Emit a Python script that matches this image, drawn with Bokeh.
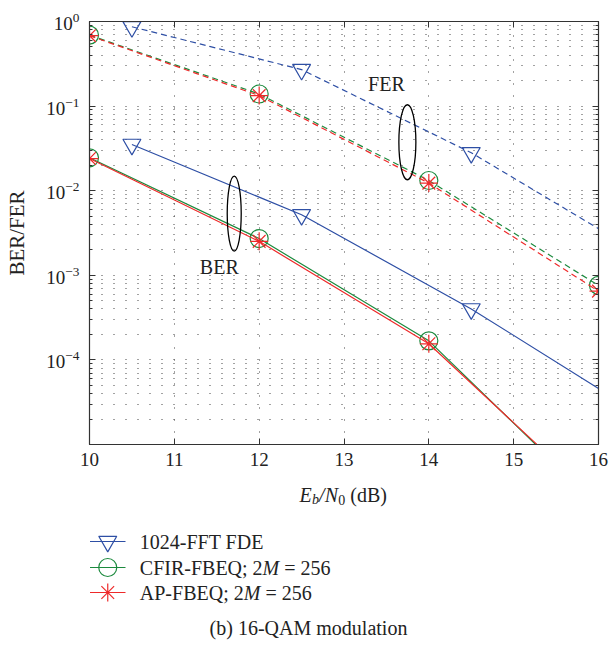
import numpy as np
from bokeh.plotting import figure
from bokeh.layouts import column
from bokeh.models import (FixedTicker, LinearAxis, LogAxis, Range1d, CustomJSTickFormatter)
from bokeh.embed import file_html
from bokeh.resources import INLINE
from bokeh.core.properties import value

# ---------------- data ----------------
x_ticks = [10, 11, 12, 13, 14, 15, 16]
y_exponents = [0, -1, -2, -3, -4]

fft_x = [10.5, 12.5, 14.5, 16.0]
fft_ber = [0.0352, 0.0052, 4.0e-4, 4.6e-5]
fft_fer = [0.866, 0.27, 0.0281, 0.00356]
fft_marker_count = 3

fbeq_x = [10, 12, 14, 16]
cfir_ber = [0.0245, 0.00272, 1.68e-4, 1.9e-6]
cfir_fer = [0.69, 0.139, 0.0132, 7.6e-4]
ap_ber = [0.0240, 0.00252, 1.55e-4, 2.1e-6]
ap_fer = [0.68, 0.133, 0.0123, 6.5e-4]

series_names = ["1024-FFT FDE", "CFIR-FBEQ; 2", "AP-FBEQ; 2"]
series_italic = ["", "M", "M"]
series_suffix = ["", "= 256", "= 256"]

group_text = ["FER", "BER"]
group_text_x = [13.5, 11.53]
group_text_y = [0.184, 0.00126]
ell_x = [13.747, 11.706]
ell_y = [0.0374, 0.00537]
ell_w = [17, 14]
ell_h = [75, 75]

y_label = "BER/FER"
caption = "(b) 16-QAM modulation"

# ---------------- style ----------------
FONT = "Liberation Serif"
BLUE = "#2E4FA5"
GREEN = "#1C8A3E"
RED = "#EE2A2A"
AX = "#333333"
TXT = "#222222"
LW = 1.2
W = 611
H_MAIN = 475
H_SUB = 645 - H_MAIN
FL, FR = 89, 598   # frame left / right in page pixels
SP = 5.0           # width of a space at 20px

p = figure(width=W, height=H_MAIN, x_range=(10, 16), y_range=(1e-5, 1),
           y_axis_type="log", output_backend="svg", toolbar_location=None,
           min_border_left=FL, min_border_right=W - FR, min_border_top=21,
           min_border_bottom=H_MAIN - 444)
p.background_fill_color = "white"
p.border_fill_color = "white"
p.outline_line_color = AX
p.outline_line_width = 1.2

xt = FixedTicker(ticks=x_ticks, minor_ticks=[])
yt = FixedTicker(ticks=[10.0 ** e for e in y_exponents],
                 minor_ticks=[k * 10.0 ** e for e in range(-5, 0) for k in range(2, 10)])
blank = CustomJSTickFormatter(code="return ''")

for ax in p.xaxis:
    ax.ticker = xt
    ax.major_tick_in = 6
    ax.major_tick_out = 0
    ax.minor_tick_in = 0
    ax.minor_tick_out = 0
    ax.axis_line_color = AX
    ax.major_tick_line_color = AX
    ax.major_label_text_font = FONT
    ax.major_label_text_font_size = "19px"
    ax.major_label_text_color = TXT
    ax.major_label_standoff = 8
for ax in p.yaxis:
    ax.ticker = yt
    ax.major_tick_in = 6
    ax.major_tick_out = 0
    ax.minor_tick_in = 3
    ax.minor_tick_out = 0
    ax.axis_line_color = AX
    ax.major_tick_line_color = AX
    ax.minor_tick_line_color = AX
    ax.major_label_text_font = FONT
    ax.major_label_text_font_size = "19px"
    ax.major_label_text_color = TXT
    ax.major_label_standoff = 10
    ax.axis_label = y_label
    ax.axis_label_text_font = FONT
    ax.axis_label_text_font_size = "21px"
    ax.axis_label_text_font_style = "normal"
    ax.axis_label_text_color = TXT
    ax.axis_label_standoff = 14

top = LinearAxis(ticker=xt, formatter=blank, major_tick_in=6, major_tick_out=0,
                 minor_tick_in=0, minor_tick_out=0,
                 axis_line_color=AX, major_tick_line_color=AX, major_label_standoff=0)
p.add_layout(top, "above")
right = LogAxis(ticker=yt, formatter=blank, major_tick_in=6, major_tick_out=0,
                minor_tick_in=3, minor_tick_out=0,
                axis_line_color=AX, major_tick_line_color=AX, minor_tick_line_color=AX,
                major_label_standoff=0)
p.add_layout(right, "right")

p.xgrid.grid_line_color = "#444444"
p.xgrid.grid_line_dash = "1 11"
p.ygrid.grid_line_color = "#444444"
p.ygrid.grid_line_dash = "1 11"
p.ygrid.minor_grid_line_color = "#444444"
p.ygrid.minor_grid_line_dash = "1 11"

# ---- curves ----
p.line(fft_x, fft_ber, line_color=BLUE, line_width=LW)
p.line(fft_x, fft_fer, line_color=BLUE, line_width=LW, line_dash="6 4")
p.scatter(fft_x[:fft_marker_count], fft_ber[:fft_marker_count], marker="inverted_triangle",
          size=18, fill_color=None, line_color=BLUE, line_width=LW)
p.scatter(fft_x[:fft_marker_count], fft_fer[:fft_marker_count], marker="inverted_triangle",
          size=18, fill_color=None, line_color=BLUE, line_width=LW)

p.line(fbeq_x, cfir_ber, line_color=GREEN, line_width=LW)
p.line(fbeq_x, cfir_fer, line_color=GREEN, line_width=LW, line_dash="6 4")
p.scatter(fbeq_x, cfir_ber, marker="circle", size=18, fill_color=None, line_color=GREEN, line_width=LW)
p.scatter(fbeq_x, cfir_fer, marker="circle", size=18, fill_color=None, line_color=GREEN, line_width=LW)

p.line(fbeq_x, ap_ber, line_color=RED, line_width=LW)
p.line(fbeq_x, ap_fer, line_color=RED, line_width=LW, line_dash="6 4")
p.scatter(fbeq_x, ap_ber, marker="asterisk", size=18, line_color=RED, line_width=LW)
p.scatter(fbeq_x, ap_fer, marker="asterisk", size=18, line_color=RED, line_width=LW)

# ---- ellipses + group text ----
p.ellipse(x=ell_x, y=ell_y, width=ell_w, height=ell_h, width_units="screen", height_units="screen",
          fill_color=None, line_color="black", line_width=1.3)
p.text(x=group_text_x, y=group_text_y, text=group_text, text_font=value(FONT),
       text_font_size=value("20px"), text_align="center", text_baseline="middle", text_color=TXT)

# ---------------- lower panel: x label, legend, caption ----------------
# this panel's frame is aligned with the main frame; its coordinates are page pixels
q = figure(width=W, height=H_SUB, x_range=Range1d(FL, FR), y_range=Range1d(645, H_MAIN),
           output_backend="svg", toolbar_location=None,
           min_border_left=FL, min_border_right=W - FR, min_border_top=0, min_border_bottom=0)
q.axis.visible = False
q.grid.visible = False
q.outline_line_color = None
q.background_fill_color = "white"
q.border_fill_color = "white"

# x-axis label  E_b/N_0 (dB)
xl_text = ["E", "b", "/N", "0", "(dB)"]
xl_size = ["20px", "14px", "20px", "14px", "20px"]
xl_style = ["italic", "italic", "italic", "normal", "normal"]
xl_dy = [0, 5, 0, 5, 0]
xl_adv = [12.4, 7.2, 19.2, 7.0 + SP, 36.7]
xl_x0, xl_y0 = 299.0, 494.0
xpos = list(np.cumsum([xl_x0] + xl_adv[:-1]))
for t, s, st, dy, x0 in zip(xl_text, xl_size, xl_style, xl_dy, xpos):
    q.text(x=[x0], y=[xl_y0 + dy], text=[t], text_font=value(FONT), text_font_size=value(s),
           text_font_style=st, text_align="left", text_baseline="middle", text_color=TXT)

# legend
row_y = [541, 567, 592]
lg_x0, lg_x1, lg_tx = 89.5, 125.0, 139.3
colors = [BLUE, GREEN, RED]
markers = ["inverted_triangle", "circle", "asterisk"]
prefix_w = [124.0, 122.8, 103.9]
for i in range(3):
    q.line([lg_x0, lg_x1], [row_y[i], row_y[i]], line_color=colors[i], line_width=LW)
    q.scatter([(lg_x0 + lg_x1) / 2], [row_y[i]], marker=markers[i], size=18,
              fill_color=None, line_color=colors[i], line_width=LW)
    q.text(x=[lg_tx], y=[row_y[i]], text=[series_names[i]], text_font=value(FONT),
           text_font_size=value("20px"), text_align="left", text_baseline="middle", text_color=TXT)
    if series_italic[i]:
        mx = lg_tx + prefix_w[i]
        q.text(x=[mx], y=[row_y[i]], text=[series_italic[i]], text_font=value(FONT),
               text_font_size=value("20px"), text_font_style="italic",
               text_align="left", text_baseline="middle", text_color=TXT)
        q.text(x=[mx + 16.7 + SP], y=[row_y[i]], text=[series_suffix[i]], text_font=value(FONT),
               text_font_size=value("20px"), text_align="left", text_baseline="middle", text_color=TXT)

# caption
q.text(x=[308], y=[627], text=[caption], text_font=value(FONT), text_font_size=value("20px"),
       text_align="center", text_baseline="middle", text_color=TXT)

layout = column(p, q, spacing=0)
open("out.html", "w").write(file_html(layout, INLINE))
